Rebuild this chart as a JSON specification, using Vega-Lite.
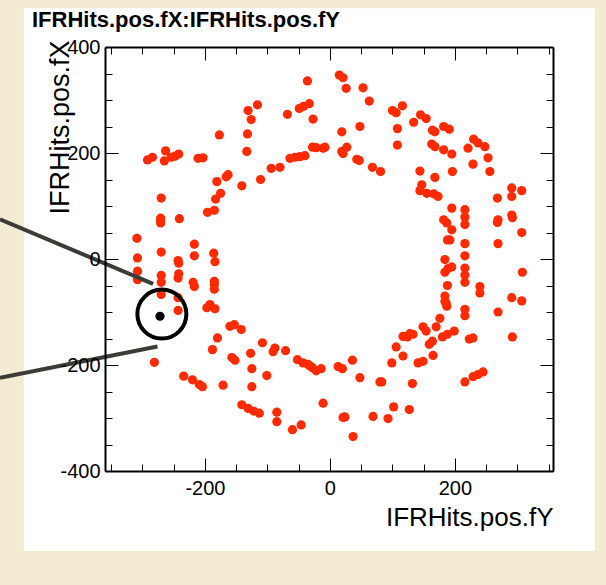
{
  "$schema": "https://vega.github.io/schema/vega-lite/v6.json",
  "width": 448,
  "height": 424,
  "autosize": "none",
  "padding": {"left": 105, "top": 47, "right": 53, "bottom": 114},
  "background": "#f3ecd2",
  "view": {"stroke": null, "fill": null},
  "title": {"text": "IFRHits.pos.fX:IFRHits.pos.fY", "anchor": "start", "frame": "group", "font": "Liberation Sans", "fontSize": 22, "fontWeight": "bold", "color": "black", "dx": -73, "offset": 14, "dy": 55, "baseline": "alphabetic"},
  "resolve": {"scale": {"x": "shared", "y": "shared"}, "axis": {"x": "independent", "y": "independent"}},
  "layer": [
    {
      "data": {"values": [{}]},
      "mark": {"type": "rect", "color": "white", "clip": false},
      "encoding": {
        "x": {"datum": -490, "type": "quantitative", "scale": {"domain": [-360, 357], "nice": false, "zero": false}, "axis": null},
        "x2": {"datum": 424},
        "y": {"datum": 473, "type": "quantitative", "scale": {"domain": [-400, 400], "nice": false, "zero": false}, "axis": null},
        "y2": {"datum": -551}
      }
    },
    {
      "data": {"values": [
        {"fY":-36,"fX":336},{"fY":-33,"fX":293},{"fY":-49,"fX":284},{"fY":-42,"fX":288},{"fY":-27,"fX":264},{"fY":-68,"fX":273},{"fY":-116,"fX":291},{"fY":-131,"fX":280},{"fY":-126,"fX":263},{"fY":-132,"fX":236},{"fY":-177,"fX":234},{"fY":-133,"fX":203},{"fY":-28,"fX":211},{"fY":-22,"fX":210},{"fY":-48,"fX":193},{"fY":-40,"fX":195},{"fY":-56,"fX":192},{"fY":-64,"fX":190},{"fY":-80,"fX":173},{"fY":-94,"fX":171},{"fY":-111,"fX":150},{"fY":-141,"fX":138},{"fY":-163,"fX":159},{"fY":-166,"fX":155},{"fY":-181,"fX":146},{"fY":-175,"fX":124},{"fY":-183,"fX":113},{"fY":-185,"fX":92},{"fY":-196,"fX":88},{"fY":-242,"fX":198},{"fY":-248,"fX":194},{"fY":-254,"fX":192},{"fY":-263,"fX":204},{"fY":-265,"fX":185},{"fY":-284,"fX":192},{"fY":-292,"fX":187},{"fY":-203,"fX":191},{"fY":-211,"fX":190},{"fY":-270,"fX":115},{"fY":-271,"fX":77},{"fY":-271,"fX":68},{"fY":-271,"fX":72},{"fY":-241,"fX":76},{"fY":-309,"fX":39},{"fY":-270,"fX":13},{"fY":-217,"fX":28},{"fY":-186,"fX":11},{"fY":-217,"fX":6},{"fY":-308,"fX":2},{"fY":-243,"fX":-3},
        {"fY":-11,"fX":209},{"fY":-8,"fX":211},{"fY":15,"fX":347},{"fY":21,"fX":342},{"fY":26,"fX":322},{"fY":53,"fX":323},{"fY":63,"fX":298},{"fY":19,"fX":240},{"fY":48,"fX":250},{"fY":19,"fX":203},{"fY":27,"fX":211},{"fY":21,"fX":199},{"fY":43,"fX":188},{"fY":47,"fX":186},{"fY":68,"fX":173},{"fY":81,"fX":165},{"fY":100,"fX":280},{"fY":106,"fX":276},{"fY":116,"fX":289},{"fY":108,"fX":246},{"fY":108,"fX":215},{"fY":134,"fX":258},{"fY":145,"fX":272},{"fY":154,"fX":265},{"fY":164,"fX":243},{"fY":168,"fX":240},{"fY":182,"fX":250},{"fY":191,"fX":245},{"fY":163,"fX":217},{"fY":168,"fX":212},{"fY":182,"fX":206},{"fY":195,"fX":198},{"fY":230,"fX":226},{"fY":237,"fX":219},{"fY":248,"fX":212},{"fY":221,"fX":209},{"fY":253,"fX":191},{"fY":229,"fX":179},{"fY":256,"fX":165},{"fY":144,"fX":166},{"fY":168,"fX":154},{"fY":196,"fX":165},{"fY":147,"fX":140},{"fY":144,"fX":129},{"fY":155,"fX":124},{"fY":166,"fX":123},{"fY":173,"fX":118},{"fY":195,"fX":96},{"fY":216,"fX":93},{"fY":216,"fX":79},{"fY":216,"fX":65},{"fY":182,"fX":74},{"fY":187,"fX":68},{"fY":195,"fX":55},{"fY":192,"fX":36},{"fY":188,"fX":36},{"fY":216,"fX":29},{"fY":216,"fX":6},{"fY":184,"fX":-1},{"fY":268,"fX":115},{"fY":291,"fX":134},{"fY":291,"fX":118},{"fY":307,"fX":129},{"fY":269,"fX":74},{"fY":268,"fX":69},{"fY":291,"fX":83},{"fY":292,"fX":78},{"fY":307,"fX":50},{"fY":269,"fX":29},
        {"fY":-184,"fX":-5},{"fY":-308,"fX":-23},{"fY":-308,"fX":-39},{"fY":-270,"fX":-31},{"fY":-270,"fX":-44},{"fY":-242,"fX":-8},{"fY":-242,"fX":-28},{"fY":-243,"fX":-36},{"fY":-219,"fX":-44},{"fY":-217,"fX":-52},{"fY":-185,"fX":-42},{"fY":-185,"fX":-48},{"fY":-185,"fX":-57},{"fY":-270,"fX":-67},{"fY":-243,"fX":-73},{"fY":-243,"fX":-97},{"fY":-192,"fX":-86},{"fY":-197,"fX":-92},{"fY":-184,"fX":-94},{"fY":-281,"fX":-195},{"fY":-160,"fX":-127},{"fY":-153,"fX":-124},{"fY":-142,"fX":-133},{"fY":-180,"fX":-149},{"fY":-188,"fX":-171},{"fY":-157,"fX":-186},{"fY":-152,"fX":-191},{"fY":-127,"fX":-178},{"fY":-125,"fX":-207},{"fY":-108,"fX":-158},{"fY":-88,"fX":-168},{"fY":-91,"fX":-175},{"fY":-71,"fX":-173},{"fY":-101,"fX":-220},{"fY":-52,"fX":-190},{"fY":-43,"fX":-196},{"fY":-35,"fX":-199},{"fY":-28,"fX":-205},{"fY":-22,"fX":-211},{"fY":-32,"fX":-202},{"fY":-234,"fX":-221},{"fY":-220,"fX":-228},{"fY":-209,"fX":-237},{"fY":-204,"fX":-241},{"fY":-171,"fX":-238},{"fY":-125,"fX":-241},{"fY":-141,"fX":-275},{"fY":-131,"fX":-282},{"fY":-122,"fX":-287},{"fY":-113,"fX":-291},{"fY":-85,"fX":-289},{"fY":-85,"fX":-307},{"fY":-60,"fX":-322},{"fY":-46,"fX":-313},
        {"fY":216,"fX":-17},{"fY":216,"fX":-30},{"fY":216,"fX":-44},{"fY":195,"fX":-15},{"fY":184,"fX":-25},{"fY":189,"fX":-18},{"fY":188,"fX":-50},{"fY":184,"fX":-70},{"fY":184,"fX":-80},{"fY":187,"fX":-89},{"fY":186,"fX":-83},{"fY":240,"fX":-52},{"fY":240,"fX":-64},{"fY":308,"fX":-25},{"fY":291,"fX":-73},{"fY":307,"fX":-79},{"fY":216,"fX":-95},{"fY":216,"fX":-107},{"fY":269,"fX":-100},{"fY":292,"fX":-147},{"fY":176,"fX":-112},{"fY":170,"fX":-128},{"fY":149,"fX":-128},{"fY":154,"fX":-136},{"fY":117,"fX":-146},{"fY":128,"fX":-141},{"fY":124,"fX":-147},{"fY":133,"fX":-142},{"fY":106,"fX":-166},{"fY":117,"fX":-183},{"fY":99,"fX":-196},{"fY":141,"fX":-196},{"fY":149,"fX":-193},{"fY":159,"fX":-161},{"fY":164,"fX":-155},{"fY":165,"fX":-182},{"fY":180,"fX":-147},{"fY":188,"fX":-142},{"fY":199,"fX":-136},{"fY":223,"fX":-151},{"fY":229,"fX":-149},{"fY":216,"fX":-232},{"fY":229,"fX":-222},{"fY":237,"fX":-218},{"fY":245,"fX":-213},{"fY":-14,"fX":-207},{"fY":13,"fX":-203},{"fY":20,"fX":-207},{"fY":36,"fX":-191},{"fY":48,"fX":-224},{"fY":83,"fX":-232},{"fY":80,"fX":-232},{"fY":132,"fX":-235},{"fY":-11,"fX":-272},{"fY":21,"fX":-299},{"fY":24,"fX":-298},{"fY":69,"fX":-297},{"fY":93,"fX":-301},{"fY":102,"fX":-279},{"fY":127,"fX":-284},{"fY":37,"fX":-335}
      ]},
      "mark": {"type": "point", "shape": "circle", "filled": true, "size": 85, "color": "#ff2a00", "opacity": 1},
      "encoding": {
        "x": {"field": "fY", "type": "quantitative", "axis": {
          "orient": "bottom", "zindex": 1,
          "values": [-350,-300,-250,-200,-150,-100,-50,0,50,100,150,200,250,300,350],
          "labelExpr": "datum.value % 200 === 0 ? toString(datum.value) : ''",
          "tickSize": {"condition": {"test": "datum.value % 200 === 0", "value": -13}, "value": -7},
          "tickColor": "black", "tickWidth": 1, "domainColor": "black", "domainWidth": 2, "grid": false,
          "labelFont": "Liberation Sans", "labelFontSize": 20, "labelColor": "black", "labelPadding": 20, "labelFlush": false, "labelOverlap": false,
          "title": "IFRHits.pos.fY", "titleFont": "Liberation Sans", "titleFontSize": 26, "titleFontWeight": "normal", "titleColor": "black",
          "titleX": 448, "titleY": 54, "titleAlign": "right", "titleBaseline": "alphabetic"
        }},
        "y": {"field": "fX", "type": "quantitative", "axis": {
          "orient": "left", "zindex": 1,
          "values": [-400,-350,-300,-250,-200,-150,-100,-50,0,50,100,150,200,250,300,350,400],
          "labelExpr": "datum.value % 200 === 0 ? toString(datum.value) : ''",
          "tickSize": {"condition": {"test": "datum.value % 200 === 0", "value": -13}, "value": -7},
          "tickColor": "black", "tickWidth": 1, "domainColor": "black", "domainWidth": 2, "grid": false,
          "labelFont": "Liberation Sans", "labelFontSize": 20, "labelColor": "black", "labelPadding": 18, "labelFlush": false, "labelOverlap": false,
          "title": "IFRHits.pos.fX", "titleFont": "Liberation Sans", "titleFontSize": 27, "titleFontWeight": "normal", "titleColor": "black",
          "titleAngle": -90, "titleX": -37, "titleY": -7, "titleAlign": "right", "titleBaseline": "alphabetic"
        }}
      }
    },
    {
      "data": {"values": [{"fY": -272, "fX": -108}]},
      "mark": {"type": "point", "shape": "circle", "filled": true, "size": 85, "color": "black", "opacity": 1},
      "encoding": {
        "x": {"field": "fY", "type": "quantitative", "axis": {
          "orient": "top", "zindex": 1, "labels": false, "title": null,
          "values": [-350,-300,-250,-200,-150,-100,-50,0,50,100,150,200,250,300,350],
          "tickSize": {"condition": {"test": "datum.value % 200 === 0", "value": -13}, "value": -7},
          "tickColor": "black", "tickWidth": 1, "domainColor": "black", "domainWidth": 2, "grid": false
        }},
        "y": {"field": "fX", "type": "quantitative", "axis": {
          "orient": "right", "zindex": 1, "labels": false, "title": null,
          "values": [-400,-350,-300,-250,-200,-150,-100,-50,0,50,100,150,200,250,300,350,400],
          "tickSize": {"condition": {"test": "datum.value % 200 === 0", "value": -13}, "value": -7},
          "tickColor": "black", "tickWidth": 1, "domainColor": "black", "domainWidth": 2, "grid": false
        }}
      }
    },
    {
      "data": {"values": [{}]},
      "mark": {"type": "point", "shape": "circle", "filled": false, "size": 2400, "stroke": "black", "strokeWidth": 4, "opacity": 1, "clip": false},
      "encoding": {
        "x": {"datum": -269, "type": "quantitative", "axis": null},
        "y": {"datum": -104, "type": "quantitative", "axis": null}
      }
    },
    {
      "data": {"values": [{}]},
      "mark": {"type": "rule", "color": "#3c3c36", "strokeWidth": 4, "clip": false},
      "encoding": {
        "x": {"datum": -528, "type": "quantitative", "axis": null},
        "y": {"datum": 75, "type": "quantitative", "axis": null},
        "x2": {"datum": -283},
        "y2": {"datum": -47}
      }
    },
    {
      "data": {"values": [{}]},
      "mark": {"type": "rule", "color": "#3c3c36", "strokeWidth": 4, "clip": false},
      "encoding": {
        "x": {"datum": -528, "type": "quantitative", "axis": null},
        "y": {"datum": -224, "type": "quantitative", "axis": null},
        "x2": {"datum": -276},
        "y2": {"datum": -165}
      }
    }
  ]
}
